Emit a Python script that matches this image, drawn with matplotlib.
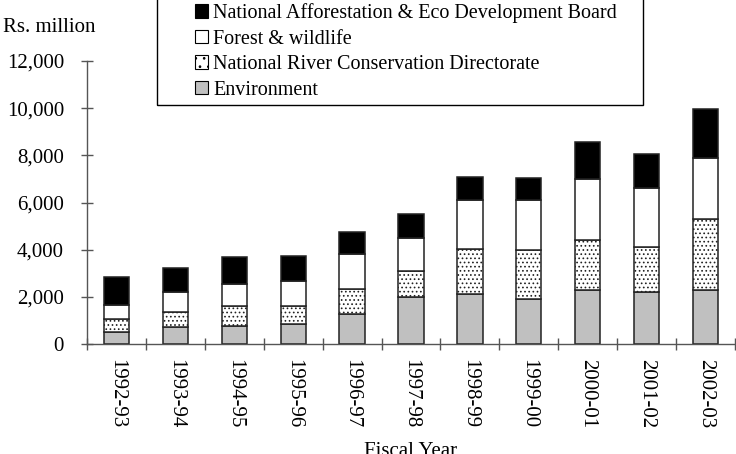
import matplotlib
matplotlib.use("Agg")
import matplotlib.pyplot as plt
from matplotlib.patches import Rectangle, Patch
import numpy as np

years = ["1992-93", "1993-94", "1994-95", "1995-96", "1996-97", "1997-98",
         "1998-99", "1999-00", "2000-01", "2001-02", "2002-03"]
environment = [530, 740, 780, 840, 1290, 2000, 2115, 1915, 2300, 2185, 2300]
river = [530, 620, 840, 790, 1035, 1075, 1920, 2050, 2120, 1925, 3010]
forest = [590, 850, 920, 1035, 1485, 1430, 2065, 2150, 2575, 2500, 2575]
afforestation = [1190, 1000, 1130, 1060, 930, 1005, 1000, 920, 1570, 1440, 2080]
yticks = [0, 2000, 4000, 6000, 8000, 10000, 12000]
ytick_labels = ["0", "2,000", "4,000", "6,000", "8,000", "10,000", "12,000"]

plt.rcParams['font.family'] = ['Liberation Serif', 'DejaVu Serif']
plt.rcParams['hatch.linewidth'] = 0.7
FS = 15
LFS = 14.5

W, H = 736, 454
fig = plt.figure(figsize=(W / 100, H / 100), dpi=100)
ax = fig.add_axes([87 / W, 1 - 344 / H, (735 - 87) / W, (344 - 61) / H])

x = np.arange(len(years))
bw = 0.43
env = np.array(environment)
riv = np.array(river)
fst = np.array(forest)
aff = np.array(afforestation)

ec = "#222222"
lw = 1.1
HATCH = "...."
ax.bar(x, env, bw, color="#c0c0c0", edgecolor=ec, linewidth=lw, zorder=2)
ax.bar(x, riv, bw, bottom=env, color="white", edgecolor=ec, linewidth=lw,
       hatch=HATCH, zorder=2)
ax.bar(x, fst, bw, bottom=env + riv, color="white", edgecolor=ec, linewidth=lw, zorder=2)
ax.bar(x, aff, bw, bottom=env + riv + fst, color="black", edgecolor=ec, linewidth=lw, zorder=2)

ax.set_xlim(-0.5, len(years) - 0.5)
ax.set_ylim(0, 12000)
ax.set_yticks(yticks)
ax.set_yticklabels(ytick_labels, fontsize=FS)
ax.set_xticks(x)
ax.set_xticklabels(years, rotation=270, fontsize=FS, va="top", ha="center")
ax.set_xticks(np.arange(-0.5, len(years), 1), minor=True)
ax.tick_params(axis="x", which="major", length=0, pad=11)
ax.tick_params(axis="x", which="minor", direction="inout", length=9, color="#555555", width=1)
ax.tick_params(axis="y", direction="inout", length=9, color="#555555", width=1, pad=12)

for s in ["top", "right"]:
    ax.spines[s].set_visible(False)
for s in ["left", "bottom"]:
    ax.spines[s].set_color("#555555")
    ax.spines[s].set_linewidth(1.0)

fig.text(3 / W, 1 - 28 / H, "Rs. million", fontsize=FS, ha="left", va="center")
fig.text(411 / W, 1 - 442 / H, "Fiscal Year", fontsize=FS, ha="center", va="top")

# legend box
fig.patches.append(Rectangle((157 / W, 1 - 105 / H), (643 - 157) / W, (105 + 3) / H,
                             transform=fig.transFigure, fill=False, edgecolor="black",
                             linewidth=1.0, clip_on=False))
handles = [
    Patch(facecolor="black", edgecolor="black", linewidth=0.8),
    Patch(facecolor="white", edgecolor="black", linewidth=0.8),
    Patch(facecolor="white", edgecolor="black", linewidth=0.8, hatch=".."),
    Patch(facecolor="#c0c0c0", edgecolor="black", linewidth=0.8),
]
labels = ["National Afforestation & Eco Development Board", "Forest & wildlife",
          "National River Conservation Directorate", "Environment"]
fig.legend(handles, labels, loc="upper left", bbox_to_anchor=(195 / W, 1 - 3 / H),
           frameon=False, fontsize=LFS, handlelength=0.65, handleheight=0.65,
           handletextpad=0.25, labelspacing=0.33, borderpad=0, borderaxespad=0)

fig.savefig("out.png", dpi=100)
